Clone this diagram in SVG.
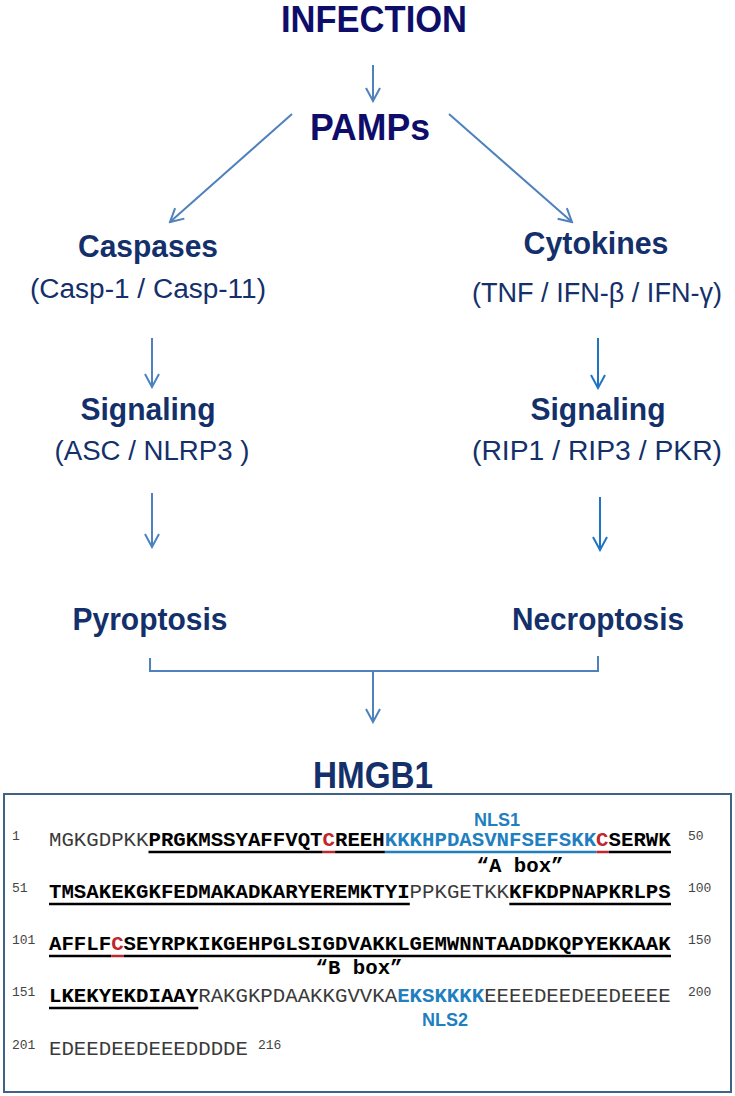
<svg xmlns="http://www.w3.org/2000/svg" width="735" height="1096" viewBox="0 0 735 1096">
<defs>
<marker id="ah" viewBox="0 0 16 16" refX="14" refY="8" markerWidth="16" markerHeight="16" markerUnits="userSpaceOnUse" orient="auto">
<path d="M1,1 L14,8 L1,15" fill="none" stroke="#4f81bd" stroke-width="2"/>
</marker>
<marker id="ah2" viewBox="0 0 16 16" refX="14" refY="8" markerWidth="16" markerHeight="16" markerUnits="userSpaceOnUse" orient="auto">
<path d="M1,1 L14,8 L1,15" fill="none" stroke="#1f74c4" stroke-width="2"/>
</marker>
<style>
.t{font-family:"Liberation Sans",Arial,sans-serif;font-weight:bold;text-anchor:middle;fill:#14306a}
.tp{fill:#0e0e6a}
.s{font-family:"Liberation Sans",Arial,sans-serif;font-size:27px;text-anchor:middle;fill:#14306a}
.c{fill:none;stroke:#4f81bd;stroke-width:2}
.c2{fill:none;stroke:#1f74c4;stroke-width:2}
.seq{font-family:"Liberation Mono","Courier New",monospace;font-size:20.73px;fill:#3a3a3a}
.b{font-weight:bold;fill:#000}
.r{font-weight:bold;fill:#c0262c}
.bl{font-weight:bold;fill:#1f7fbf}
.num{font-family:"Liberation Mono","Courier New",monospace;font-size:13px;fill:#444}
.nls{font-family:"Liberation Sans",Arial,sans-serif;font-weight:bold;font-size:18px;fill:#1f7fbf;text-anchor:middle}
.box{font-family:"Liberation Mono","Courier New",monospace;font-weight:bold;font-size:20.73px;fill:#000;text-anchor:middle}
.ul{stroke:#000;stroke-width:2.5}
.ur{stroke:#c0262c;stroke-width:2.5}
.ub{stroke:#1f7fbf;stroke-width:2.5}
</style>
</defs>
<g id="connectors">
<line class="c" x1="373" y1="65" x2="373" y2="101" marker-end="url(#ah)"/>
<line class="c" x1="292" y1="114" x2="170" y2="222" marker-end="url(#ah)"/>
<line class="c" x1="449" y1="114" x2="572" y2="222" marker-end="url(#ah)"/>
<line class="c" x1="152" y1="338" x2="152" y2="387" marker-end="url(#ah)"/>
<line class="c2" x1="598" y1="338" x2="598" y2="388" marker-end="url(#ah2)"/>
<line class="c" x1="152" y1="493" x2="152" y2="547" marker-end="url(#ah)"/>
<line class="c2" x1="600" y1="497" x2="600" y2="550" marker-end="url(#ah2)"/>
<path class="c" d="M150,658 V671 H598 V656"/>
<line class="c" x1="373" y1="671" x2="373" y2="722" marker-end="url(#ah)"/>
</g>
<g id="infection"><text class="t tp" x="374" y="32" font-size="37" textLength="186" lengthAdjust="spacingAndGlyphs">INFECTION</text></g>
<g id="pamps"><text class="t tp" x="370" y="140" font-size="37" textLength="120" lengthAdjust="spacingAndGlyphs">PAMPs</text></g>
<g id="caspases">
<text class="t" x="148" y="257" font-size="31" textLength="140" lengthAdjust="spacingAndGlyphs">Caspases</text>
<text class="s" x="148" y="298" textLength="236" lengthAdjust="spacingAndGlyphs">(Casp-1 / Casp-11)</text>
</g>
<g id="cytokines">
<text class="t" x="596" y="254" font-size="31" textLength="145" lengthAdjust="spacingAndGlyphs">Cytokines</text>
<text class="s" x="597" y="302" textLength="250" lengthAdjust="spacingAndGlyphs">(TNF / IFN-β / IFN-γ)</text>
</g>
<g id="signaling-left">
<text class="t" x="148" y="420" font-size="31" textLength="135" lengthAdjust="spacingAndGlyphs">Signaling</text>
<text class="s" x="152" y="460" textLength="195" lengthAdjust="spacingAndGlyphs">(ASC / NLRP3 )</text>
</g>
<g id="signaling-right">
<text class="t" x="598" y="420" font-size="31" textLength="135" lengthAdjust="spacingAndGlyphs">Signaling</text>
<text class="s" x="597" y="460" textLength="250" lengthAdjust="spacingAndGlyphs">(RIP1 / RIP3 / PKR)</text>
</g>
<g id="pyroptosis"><text class="t" x="150" y="630" font-size="31" textLength="155" lengthAdjust="spacingAndGlyphs">Pyroptosis</text></g>
<g id="necroptosis"><text class="t" x="598" y="630" font-size="31" textLength="172" lengthAdjust="spacingAndGlyphs">Necroptosis</text></g>
<g id="hmgb1"><text class="t" x="373" y="788" font-size="36" textLength="120" lengthAdjust="spacingAndGlyphs">HMGB1</text></g>
<g id="sequence">
<rect x="4" y="794" width="727" height="298" fill="#fff" stroke="#3f6386" stroke-width="2"/>
<text class="nls" x="497" y="826">NLS1</text>
<text class="num" x="12" y="840">1</text>
<text class="seq" x="49" y="846">MGKGDPKK<tspan class="b">PRGKMSSYAFFVQT</tspan><tspan class="r">C</tspan><tspan class="b">REEH</tspan><tspan class="bl">KKKHPDASVNFSEFSKK</tspan><tspan class="r">C</tspan><tspan class="b">SERWK</tspan></text>
<text class="num" x="688" y="840">50</text>
<line class="ul" x1="148.5" y1="852" x2="322.7" y2="852"/>
<line class="ur" x1="322.7" y1="852" x2="335.1" y2="852"/>
<line class="ul" x1="335.1" y1="852" x2="384.9" y2="852"/>
<line class="ub" x1="384.9" y1="852" x2="596.4" y2="852"/>
<line class="ur" x1="596.4" y1="852" x2="608.8" y2="852"/>
<line class="ul" x1="608.8" y1="852" x2="671" y2="852"/>
<text class="box" x="520" y="872">“A box”</text>
<text class="num" x="12" y="892">51</text>
<text class="seq" x="49" y="898"><tspan class="b">TMSAKEKGKFEDMAKADKARYEREMKTYI</tspan>PPKGETKK<tspan class="b">KFKDPNAPKRLPS</tspan></text>
<text class="num" x="688" y="892">100</text>
<line class="ul" x1="49" y1="904" x2="409.8" y2="904"/>
<line class="ul" x1="509.3" y1="904" x2="671" y2="904"/>
<text class="num" x="12" y="944">101</text>
<text class="seq" x="49" y="950"><tspan class="b">AFFLF</tspan><tspan class="r">C</tspan><tspan class="b">SEYRPKIKGEHPGLSIGDVAKKLGEMWNNTAADDKQPYEKKAAK</tspan></text>
<text class="num" x="688" y="944">150</text>
<line class="ul" x1="49" y1="956" x2="111.2" y2="956"/>
<line class="ur" x1="111.2" y1="956" x2="123.6" y2="956"/>
<line class="ul" x1="123.6" y1="956" x2="671" y2="956"/>
<text class="box" x="359" y="974">“B box”</text>
<text class="num" x="12" y="996">151</text>
<text class="seq" x="49" y="1002"><tspan class="b">LKEKYEKDIAAY</tspan>RAKGKPDAAKKGVVKA<tspan class="bl">EKSKKKK</tspan>EEEEDEEDEEDEEEE</text>
<text class="num" x="688" y="996">200</text>
<line class="ul" x1="49" y1="1008" x2="198.3" y2="1008"/>
<text class="nls" x="445" y="1026">NLS2</text>
<text class="num" x="12" y="1049">201</text>
<text class="seq" x="49" y="1055">EDEEDEEDEEEDDDDE</text>
<text class="num" x="258" y="1049">216</text>
</g>
</svg>
